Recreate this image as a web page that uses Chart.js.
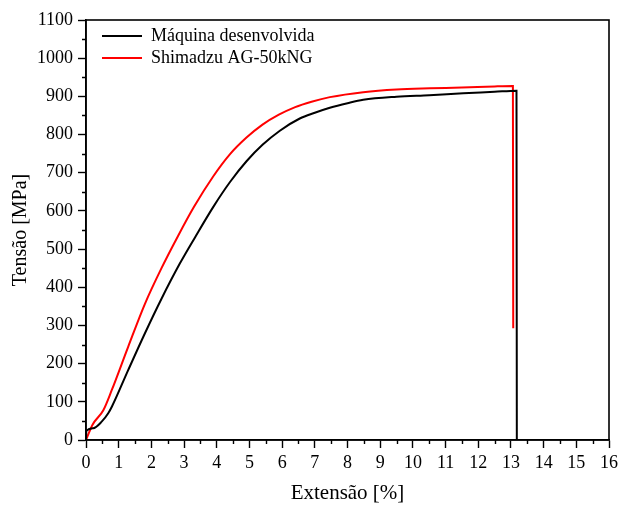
<!DOCTYPE html>
<html>
<head>
<meta charset="utf-8">
<script src="https://cdn.jsdelivr.net/npm/chart.js@4.4.1/dist/chart.umd.min.js"></script>
<style>
  html, body { margin: 0; padding: 0; background: #fff; }
  #wrap { width: 619px; height: 507px; }
</style>
</head>
<body>
<div id="wrap"><canvas id="c" width="619" height="507"></canvas></div>
<script>
// ---- Data ----
const seriesNames = ['Máquina desenvolvida', 'Shimadzu AG-50kNG'];

const maquinaX = [0, 0.01, 0.22, 0.48, 0.68, 0.79, 1.29, 1.80, 2.31, 2.87, 3.33, 3.89, 4.40, 4.91, 5.40, 5.93, 6.54, 7.00, 7.46, 8.00, 8.48, 9.50, 10.50, 11.54, 12.50, 13.17, 13.18];
const maquinaY = [0, 24, 31, 48, 70, 87, 183, 279, 370, 462, 530, 610, 675, 730, 773, 810, 842, 857, 870, 882, 891, 899, 903, 908, 912, 915, 0];

const shimadzuX = [0, 0.20, 0.53, 0.79, 1.29, 1.80, 2.31, 2.82, 3.30, 3.89, 4.40, 4.91, 5.40, 5.90, 6.40, 6.90, 7.46, 8.48, 9.50, 10.52, 11.50, 12.50, 13.06, 13.07];
const shimadzuY = [0, 40, 78, 131, 244, 356, 450, 535, 610, 690, 748, 792, 826, 852, 872, 886, 898, 911, 918, 921, 923, 926, 927, 293];

const xTicks = [0,1,2,3,4,5,6,7,8,9,10,11,12,13,14,15,16];
const yTicks = [0,100,200,300,400,500,600,700,800,900,1000,1100];
const xMinorTicks = [0.5,1.5,2.5,3.5,4.5,5.5,6.5,7.5,8.5,9.5,10.5,11.5,12.5,13.5,14.5,15.5];
const yMinorTicks = [50,150,250,350,450,550,650,750,850,950,1050];

const xTitle = 'Extensão [%]';
const yTitle = 'Tensão [MPa]';

// ---- Build ----
const toPts = (xs, ys) => xs.map((x, i) => ({x: x, y: ys[i]}));
const FONT = "'Liberation Serif', 'Times New Roman', serif";

const framePlugin = {
  id: 'frameAndMinor',
  afterLayout(chart) {
    if (chart.legend) {
      chart.legend.left += 12;
      chart.legend.top += 23;
    }
  },
  afterDatasetsDraw(chart) {
    const ctx = chart.ctx;
    const a = chart.chartArea;
    const xs = chart.scales.x, ys = chart.scales.y;
    ctx.save();
    ctx.strokeStyle = '#000';
    ctx.lineWidth = 1.6;
    ctx.strokeRect(a.left, a.top, a.right - a.left, a.bottom - a.top);
    ctx.lineWidth = 1.4;
    ctx.beginPath();
    xMinorTicks.forEach(v => {
      const px = Math.round(xs.getPixelForValue(v)) + 0.5;
      ctx.moveTo(px, a.bottom);
      ctx.lineTo(px, a.bottom + 4);
    });
    yMinorTicks.forEach(v => {
      const py = Math.round(ys.getPixelForValue(v)) + 0.5;
      ctx.moveTo(a.left, py);
      ctx.lineTo(a.left - 4, py);
    });
    ctx.stroke();
    ctx.restore();
  }
};

new Chart(document.getElementById('c'), {
  type: 'scatter',
  data: {
    datasets: [
      {
        label: seriesNames[0],
        data: toPts(maquinaX, maquinaY),
        showLine: true,
        borderColor: '#000000',
        backgroundColor: '#000000',
        borderWidth: 2,
        pointRadius: 0,
        cubicInterpolationMode: 'monotone',
        fill: false
      },
      {
        label: seriesNames[1],
        data: toPts(shimadzuX, shimadzuY),
        showLine: true,
        borderColor: '#ff0000',
        backgroundColor: '#ff0000',
        borderWidth: 2,
        pointRadius: 0,
        cubicInterpolationMode: 'monotone',
        fill: false
      }
    ]
  },
  options: {
    responsive: false,
    animation: false,
    devicePixelRatio: 1,
    layout: { padding: { top: 20, right: 10, left: 0, bottom: 0 } },
    plugins: {
      tooltip: { enabled: false },
      legend: {
        position: 'chartArea',
        align: 'start',
        labels: {
          usePointStyle: true,
          pointStyle: 'line',
          pointStyleWidth: 40,
          boxHeight: 18,
          color: '#000',
          padding: 4,
          font: { family: FONT, size: 18, lineHeight: 1.0 }
        }
      }
    },
    scales: {
      x: {
        type: 'linear',
        min: 0, max: 16,
        afterFit(scale) { scale.height = 67; scale.paddingLeft = 0; scale.paddingRight = 0; },
        afterBuildTicks(scale) { scale.ticks = xTicks.map(v => ({value: v})); },
        grid: { drawOnChartArea: false, drawTicks: true, tickLength: 8, tickWidth: 1.4, tickColor: '#000' },
        border: { display: true, color: '#000', width: 1.6 },
        ticks: { color: '#000', padding: 4, maxRotation: 0, autoSkip: false, font: { family: FONT, size: 18 },
                 callback: (v) => String(v) },
        title: { display: true, text: xTitle, color: '#000', padding: { top: 0, bottom: 1 }, font: { family: FONT, size: 21 } }
      },
      y: {
        type: 'linear',
        min: 0, max: 1100,
        afterFit(scale) { scale.width = 86; scale.paddingTop = 0; scale.paddingBottom = 0; },
        afterBuildTicks(scale) { scale.ticks = yTicks.map(v => ({value: v})); },
        grid: { drawOnChartArea: false, drawTicks: true, tickLength: 8, tickWidth: 1.4, tickColor: '#000' },
        border: { display: true, color: '#000', width: 1.6 },
        ticks: { color: '#000', padding: 5, autoSkip: false, font: { family: FONT, size: 18 },
                 callback: (v) => String(v) },
        title: { display: true, text: yTitle, color: '#000', padding: { top: 9, bottom: 0 }, font: { family: FONT, size: 20 } }
      }
    }
  },
  plugins: [framePlugin]
});
</script>
</body>
</html>
